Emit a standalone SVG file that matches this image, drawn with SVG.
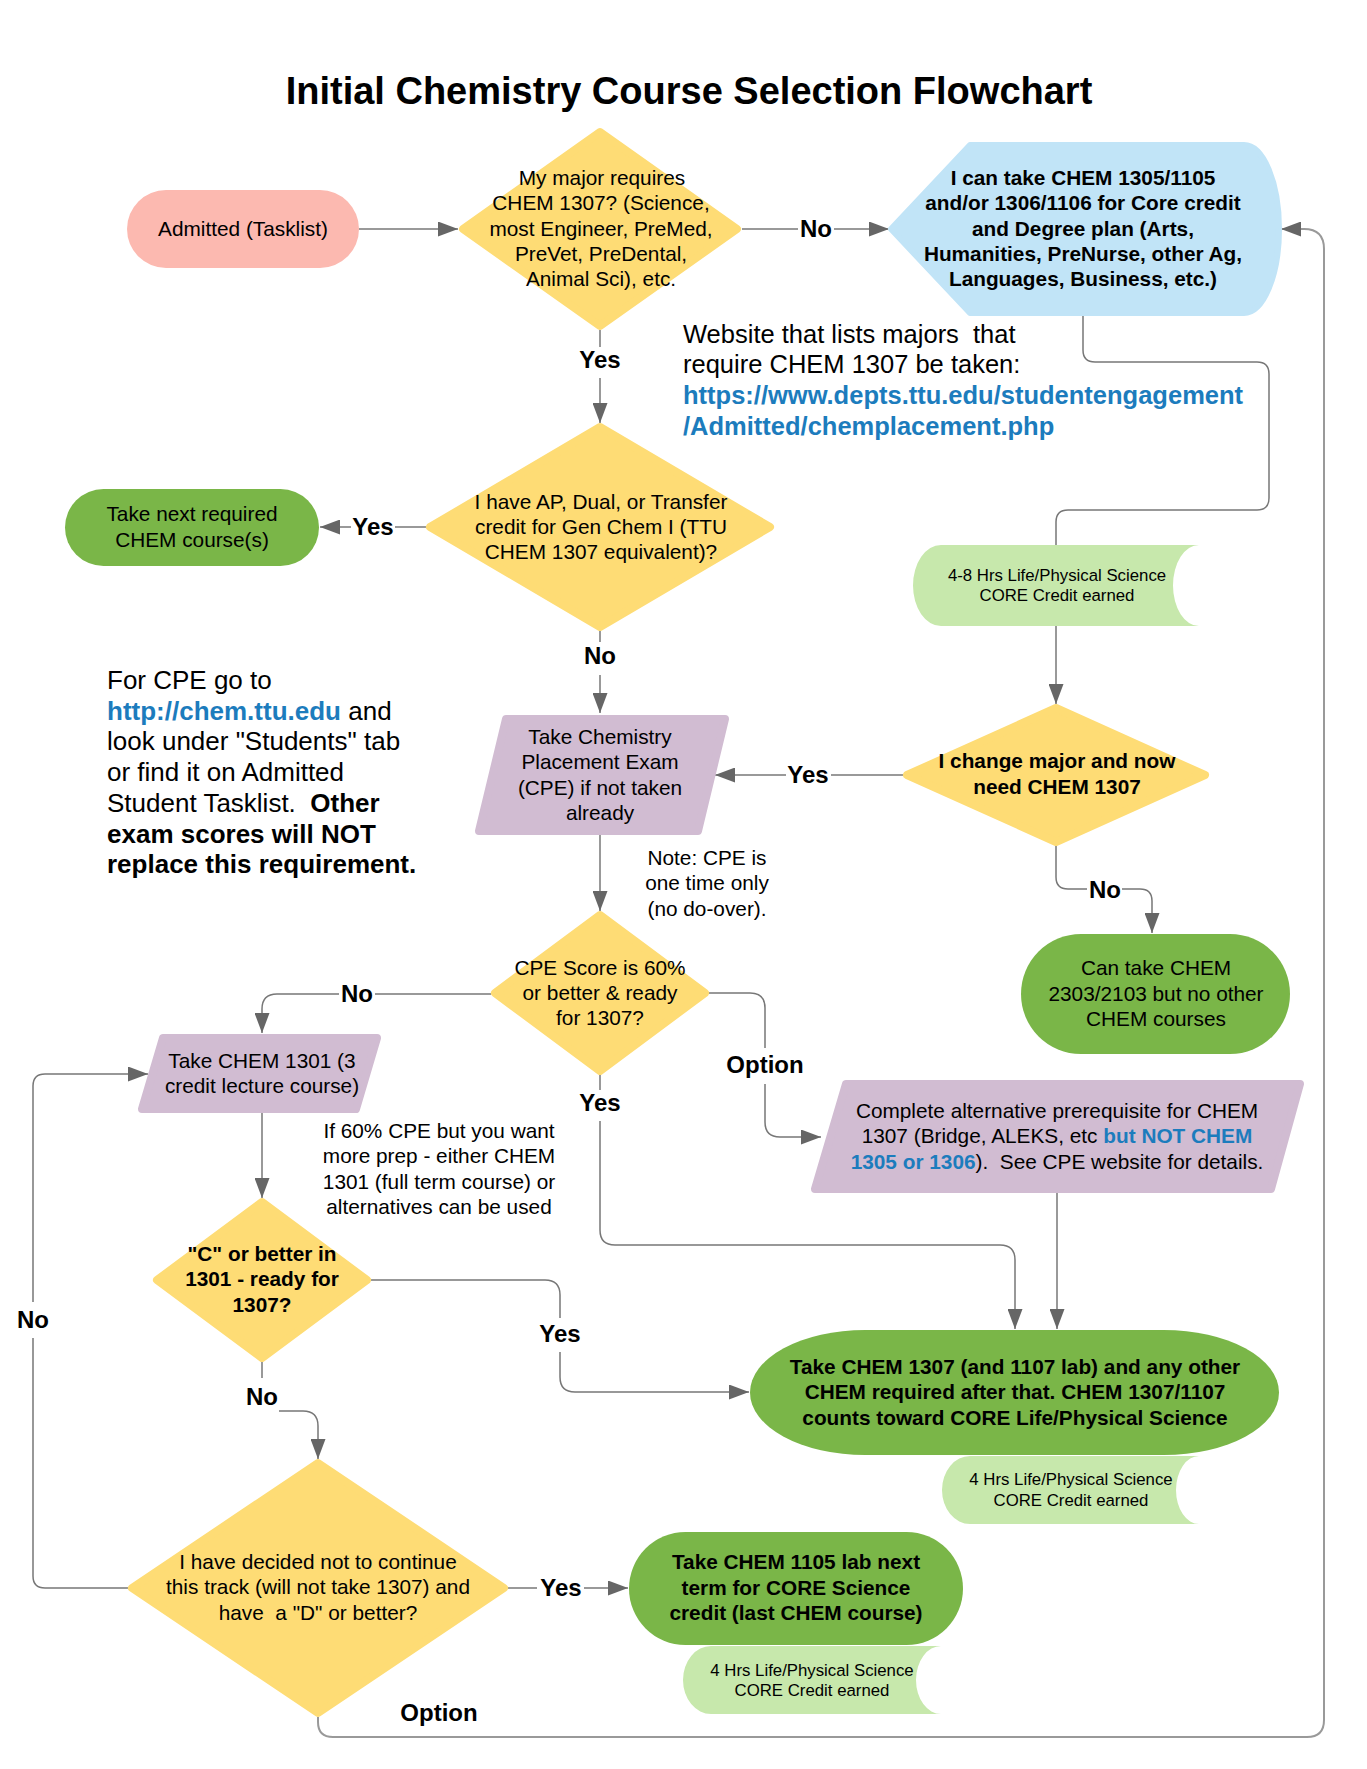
<svg xmlns="http://www.w3.org/2000/svg" width="1367" height="1769" viewBox="0 0 1367 1769">
<style>
text{font-family:"Liberation Sans",Arial,sans-serif;fill:#000}
.t{font-size:20.8px;text-anchor:middle}
.b{font-weight:bold}
.s{font-size:16.8px;text-anchor:middle}
.lbl{font-size:24px;font-weight:bold;text-anchor:middle}
.big{font-size:25.5px}
.cpe{font-size:26px}
.lnk{fill:#1c7cbd;font-weight:bold}
.c{fill:none;stroke:#777;stroke-width:1.5}
.c2{fill:none;stroke:#999;stroke-width:2}
.yel{fill:#fedc75;stroke:#fedc75;stroke-width:8;stroke-linejoin:round}
.pur{fill:#d1bcd2;stroke:#d1bcd2;stroke-width:8;stroke-linejoin:round}
.grn{fill:#7ab648}
.lg{fill:#c7e8ac}
</style>
<defs>
<marker id="ah" markerWidth="20" markerHeight="15" refX="20" refY="7.5" orient="auto" markerUnits="userSpaceOnUse"><path d="M0,0 L20,7.5 L0,15 Z" fill="#666"/></marker>
</defs>
<rect width="1367" height="1769" fill="#fff"/>
<text x="689" y="104" style="font-size:38px;font-weight:bold;text-anchor:middle">Initial Chemistry Course Selection Flowchart</text>

<g id="connectors">
<path class="c" d="M359,229 L458,229" marker-end="url(#ah)"/>
<path class="c" d="M742,229 L798,229"/>
<path class="c" d="M834,229 L889,229" marker-end="url(#ah)"/>
<path class="c" d="M600,330 L600,347"/>
<path class="c" d="M600,378 L600,423" marker-end="url(#ah)"/>
<path class="c" d="M426,527 L395,527"/>
<path class="c" d="M351,527 L320,527" marker-end="url(#ah)"/>
<path class="c" d="M600,631 L600,642"/>
<path class="c" d="M600,675 L600,713" marker-end="url(#ah)"/>
<path class="c" d="M1083,314 L1083,350 Q1083,362 1095,362 L1257,362 Q1269,362 1269,374 L1269,498 Q1269,510 1257,510 L1068,510 Q1056,510 1056,522 L1056,545"/>
<path class="c" d="M1056,626 L1056,704" marker-end="url(#ah)"/>
<path class="c" d="M903,775 L831,775"/>
<path class="c" d="M786,775 L715,775" marker-end="url(#ah)"/>
<path class="c" d="M1056,846 L1056,877 Q1056,889 1068,889 L1087,889"/>
<path class="c" d="M1122,889 L1140,889 Q1152,889 1152,901 L1152,933" marker-end="url(#ah)"/>
<path class="c" d="M600,835 L600,911" marker-end="url(#ah)"/>
<path class="c" d="M491,994 L375,994"/>
<path class="c" d="M339,994 L277,994 Q262,994 262,1009 L262,1033" marker-end="url(#ah)"/>
<path class="c" d="M262,1113 L262,1198" marker-end="url(#ah)"/>
<path class="c" d="M371,1280 L545,1280 Q560,1280 560,1295 L560,1318"/>
<path class="c" d="M560,1352 L560,1377 Q560,1392 575,1392 L749,1392" marker-end="url(#ah)"/>
<path class="c" d="M600,1075 L600,1090"/>
<path class="c" d="M600,1121 L600,1230 Q600,1245 615,1245 L1000,1245 Q1015,1245 1015,1260 L1015,1329" marker-end="url(#ah)"/>
<path class="c" d="M709,993 L750,993 Q765,993 765,1008 L765,1048"/>
<path class="c" d="M765,1084 L765,1122 Q765,1137 780,1137 L821,1137" marker-end="url(#ah)"/>
<path class="c" d="M1057,1193 L1057,1329" marker-end="url(#ah)"/>
<path class="c" d="M262,1362 L262,1378"/>
<path class="c" d="M279,1411 L303,1411 Q318,1411 318,1426 L318,1459" marker-end="url(#ah)"/>
<path class="c" d="M128,1588 L45,1588 Q33,1588 33,1576 L33,1338"/>
<path class="c" d="M33,1302 L33,1086 Q33,1074 45,1074 L148,1074" marker-end="url(#ah)"/>
<path class="c" d="M508,1588 L537,1588"/>
<path class="c" d="M584,1588 L628,1588" marker-end="url(#ah)"/>
<path class="c2" d="M318,1717 L318,1722 Q318,1737 333,1737 L1307,1737 Q1324,1737 1324,1720 L1324,249 Q1324,229 1304,229 L1281,229" marker-end="url(#ah)"/>
<text class="lbl" x="816" y="237">No</text>
<text class="lbl" x="600" y="368">Yes</text>
<text class="lbl" x="373" y="535">Yes</text>
<text class="lbl" x="600" y="664">No</text>
<text class="lbl" x="808" y="783">Yes</text>
<text class="lbl" x="1105" y="898">No</text>
<text class="lbl" x="357" y="1002">No</text>
<text class="lbl" x="600" y="1111">Yes</text>
<text class="lbl" x="765" y="1073">Option</text>
<text class="lbl" x="560" y="1342">Yes</text>
<text class="lbl" x="262" y="1405">No</text>
<text class="lbl" x="33" y="1328">No</text>
<text class="lbl" x="561" y="1596">Yes</text>
<text class="lbl" x="439" y="1721">Option</text>
</g>

<g id="admitted">
<rect x="127" y="190" width="232" height="78" rx="39" fill="#fcb9b0"/>
<text class="t" x="243" y="236">Admitted (Tasklist)</text>
</g>

<g id="d-major">
<polygon class="yel" points="600,132 737,229 600,326 463,229"/>
<text class="t" x="602" y="185">My major requires</text>
<text class="t" x="601" y="210">CHEM 1307? (Science,</text>
<text class="t" x="601" y="236">most Engineer, PreMed,</text>
<text class="t" x="601" y="261">PreVet, PreDental,</text>
<text class="t" x="601" y="286">Animal Sci), etc.</text>
</g>

<g id="core-option">
<path d="M970,145 L1244,145 A35 84 0 0 1 1244,313 L970,313 L891,229 Z" fill="#c1e4f7" stroke="#c1e4f7" stroke-width="6" stroke-linejoin="round"/>
<text class="t b" x="1083" y="185">I can take CHEM 1305/1105</text>
<text class="t b" x="1083" y="210">and/or 1306/1106 for Core credit</text>
<text class="t b" x="1083" y="236">and Degree plan (Arts,</text>
<text class="t b" x="1083" y="261">Humanities, PreNurse, other Ag,</text>
<text class="t b" x="1083" y="286">Languages, Business, etc.)</text>
</g>

<g id="website-note">
<text class="big" x="683" y="343" xml:space="preserve">Website that lists majors  that</text>
<text class="big" x="683" y="373">require CHEM 1307 be taken:</text>
<text class="big lnk" x="683" y="404">https://www.depts.ttu.edu/studentengagement</text>
<text class="big lnk" x="683" y="435">/Admitted/chemplacement.php</text>
</g>

<g id="d-credit">
<polygon class="yel" points="600,427 770,527 600,627 430,527"/>
<text class="t" x="601" y="509">I have AP, Dual, or Transfer</text>
<text class="t" x="601" y="534">credit for Gen Chem I (TTU</text>
<text class="t" x="601" y="559">CHEM 1307 equivalent)?</text>
</g>

<g id="take-next">
<rect x="65" y="489" width="254" height="77" rx="38.5" class="grn"/>
<text class="t" x="192" y="521">Take next required</text>
<text class="t" x="192" y="547">CHEM course(s)</text>
</g>

<g id="cpe-note">
<text class="cpe" x="107" y="689">For CPE go to</text>
<text class="cpe" x="107" y="720"><tspan class="lnk">http://chem.ttu.edu</tspan> and</text>
<text class="cpe" x="107" y="750">look under "Students" tab</text>
<text class="cpe" x="107" y="781">or find it on Admitted</text>
<text class="cpe" x="107" y="812" xml:space="preserve">Student Tasklist.  <tspan class="b">Other</tspan></text>
<text class="cpe b" x="107" y="843">exam scores will NOT</text>
<text class="cpe b" x="107" y="873">replace this requirement.</text>
</g>

<g id="tape-48">
<path d="M941,545 L1199,545 A26 40.5 0 0 0 1199,626 L941,626 A28 40.5 0 0 1 941,545 Z" class="lg"/>
<text class="s" x="1057" y="581">4-8 Hrs Life/Physical Science</text>
<text class="s" x="1057" y="601">CORE Credit earned</text>
</g>

<g id="d-change">
<polygon class="yel" points="1056,708 1205,775 1056,842 907,775"/>
<text class="t b" x="1057" y="768">I change major and now</text>
<text class="t b" x="1057" y="794">need CHEM 1307</text>
</g>

<g id="cpe">
<polygon class="pur" points="506,719 725,719 698,831 479,831"/>
<text class="t" x="600" y="744">Take Chemistry</text>
<text class="t" x="600" y="769">Placement Exam</text>
<text class="t" x="600" y="795">(CPE) if not taken</text>
<text class="t" x="600" y="820">already</text>
</g>

<g id="note-once">
<text class="t" x="707" y="865">Note: CPE is</text>
<text class="t" x="707" y="890">one time only</text>
<text class="t" x="707" y="916">(no do-over).</text>
</g>

<g id="can-take">
<rect x="1021" y="934" width="269" height="120" rx="60" class="grn"/>
<text class="t" x="1156" y="975">Can take CHEM</text>
<text class="t" x="1156" y="1001">2303/2103 but no other</text>
<text class="t" x="1156" y="1026">CHEM courses</text>
</g>

<g id="d-score">
<polygon class="yel" points="600,915 705,993 600,1071 495,993"/>
<text class="t" x="600" y="975">CPE Score is 60%</text>
<text class="t" x="600" y="1000">or better &amp; ready</text>
<text class="t" x="600" y="1025">for 1307?</text>
</g>

<g id="chem1301">
<polygon class="pur" points="163,1038 377,1038 356,1109 142,1109"/>
<text class="t" x="262" y="1068">Take CHEM 1301 (3</text>
<text class="t" x="262" y="1093">credit lecture course)</text>
</g>

<g id="prep-note">
<text class="t" x="439" y="1138">If 60% CPE but you want</text>
<text class="t" x="439" y="1163">more prep - either CHEM</text>
<text class="t" x="439" y="1189">1301 (full term course) or</text>
<text class="t" x="439" y="1214">alternatives can be used</text>
</g>

<g id="alt-prereq">
<polygon class="pur" points="846,1084 1300,1084 1271,1189 815,1189"/>
<text class="t" x="1057" y="1118">Complete alternative prerequisite for CHEM</text>
<text class="t" x="1057" y="1143">1307 (Bridge, ALEKS, etc <tspan class="lnk">but NOT CHEM</tspan></text>
<text class="t" x="1057" y="1169" xml:space="preserve"><tspan class="lnk">1305 or 1306</tspan>).  See CPE website for details.</text>
</g>

<g id="d-c-better">
<polygon class="yel" points="262,1202 367,1280 262,1358 157,1280"/>
<text class="t b" x="262" y="1261">"C" or better in</text>
<text class="t b" x="262" y="1286">1301 - ready for</text>
<text class="t b" x="262" y="1312">1307?</text>
</g>

<g id="take-1307">
<rect x="750" y="1330" width="529" height="125" rx="115" ry="62.5" class="grn"/>
<text class="t b" x="1015" y="1374">Take CHEM 1307 (and 1107 lab) and any other</text>
<text class="t b" x="1015" y="1399">CHEM required after that. CHEM 1307/1107</text>
<text class="t b" x="1015" y="1425">counts toward CORE Life/Physical Science</text>
</g>

<g id="tape-4a">
<path d="M970,1456 L1199,1456 A23 34 0 0 0 1199,1524 L970,1524 A28 34 0 0 1 970,1456 Z" class="lg"/>
<text class="s" x="1071" y="1485">4 Hrs Life/Physical Science</text>
<text class="s" x="1071" y="1506">CORE Credit earned</text>
</g>

<g id="d-decided">
<polygon class="yel" points="318,1463 504,1588 318,1713 132,1588"/>
<text class="t" x="318" y="1569">I have decided not to continue</text>
<text class="t" x="318" y="1594">this track (will not take 1307) and</text>
<text class="t" x="318" y="1620" xml:space="preserve">have  a "D" or better?</text>
</g>

<g id="take-1105">
<rect x="629" y="1532" width="334" height="113" rx="56.5" class="grn"/>
<text class="t b" x="796" y="1569">Take CHEM 1105 lab next</text>
<text class="t b" x="796" y="1595">term for CORE Science</text>
<text class="t b" x="796" y="1620">credit (last CHEM course)</text>
</g>

<g id="tape-4b">
<path d="M711,1646 L941,1646 A25 34 0 0 0 941,1714 L711,1714 A28 34 0 0 1 711,1646 Z" class="lg"/>
<text class="s" x="812" y="1676">4 Hrs Life/Physical Science</text>
<text class="s" x="812" y="1696">CORE Credit earned</text>
</g>
</svg>
